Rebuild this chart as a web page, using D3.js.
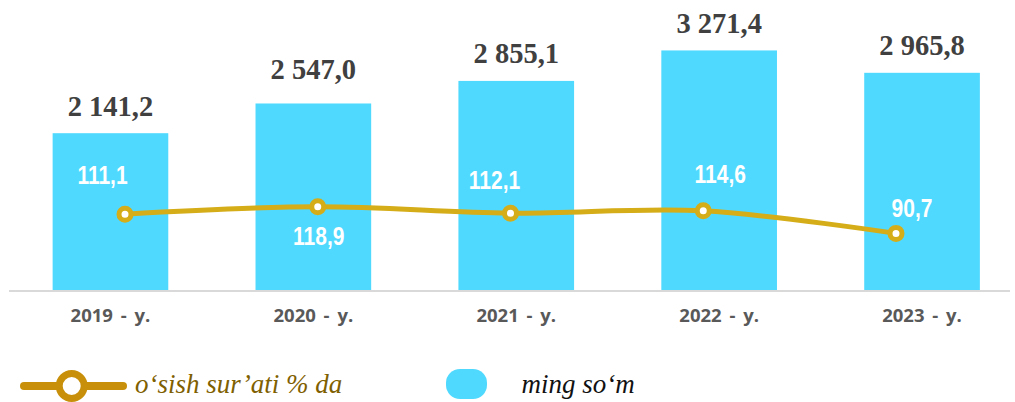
<!DOCTYPE html>
<html>
<head>
<meta charset="utf-8">
<script src="https://cdn.jsdelivr.net/npm/d3@7"></script>
<style>
  html, body { margin: 0; padding: 0; background: #ffffff; }
  svg { display: block; }
</style>
</head>
<body>
<svg id="chart" width="1015" height="402"></svg>
<script>
// ---- data ----
const categories = ["2019 - y.", "2020 - y.", "2021 - y.", "2022 - y.", "2023 - y."];
const amounts = [2141.2, 2547.0, 2855.1, 3271.4, 2965.8];      // ming so‘m
const growthRates = [111.1, 118.9, 112.1, 114.6, 90.7];        // o‘sish sur’ati % da
const legendLabels = ["o‘sish sur’ati % da", "ming so‘m"];

// ---- layout (label nudges, as placed in the original) ----
const growthLabelDx = [-22.5, 1, -16, 17, 16];
const growthLabelDy = [-30.5, 38, -24.4, -28, -16.6];
const amountLabelDy = [0, -6.5, 0, 0, 0];

const svg = d3.select("#chart");
const locale = d3.formatLocale({decimal: ",", thousands: " ", grouping: [3], currency: ["", ""]});
const fmt = locale.format(",.1f");

const x = d3.scaleBand().domain(categories).range([9, 1023.5]).paddingInner(0.43).paddingOuter(0.215);
const xLine = d3.scalePoint().domain(categories).range([125, 896]);
const yBar = d3.scaleLinear().domain([0, 3960]).range([290, 0]);
const yLine = d3.scaleLinear().domain([0, 338.2]).range([318.9, 0]);

const barColor = "#50D9FE";
const lineColor = "#D5AD18";

// bars
svg.append("g").selectAll("rect").data(amounts).join("rect")
  .attr("x", (d, i) => x(categories[i]))
  .attr("y", d => yBar(d))
  .attr("width", x.bandwidth())
  .attr("height", d => yBar(0) - yBar(d))
  .attr("fill", barColor);

// axis baseline
svg.append("line").attr("x1", 9).attr("x2", 1010).attr("y1", 291).attr("y2", 291)
  .attr("stroke", "#D9D9D9").attr("stroke-width", 2);

// x axis labels
const axis = svg.append("g").attr("transform", "translate(0,291)")
  .call(d3.axisBottom(x).tickSize(0).tickPadding(18));
axis.select(".domain").remove();
axis.selectAll("text")
  .attr("font-family", "'Open Sans', 'DejaVu Sans', sans-serif")
  .attr("font-weight", 700)
  .attr("font-size", 18.5)
  .attr("word-spacing", 3)
  .attr("fill", "#595959");

// bar value labels
svg.append("g").selectAll("text").data(amounts).join("text")
  .attr("x", (d, i) => x(categories[i]) + x.bandwidth() / 2)
  .attr("y", (d, i) => yBar(d) - 17.5 + amountLabelDy[i])
  .attr("text-anchor", "middle")
  .attr("font-family", "'Liberation Serif', 'Times New Roman', serif")
  .attr("font-weight", 700)
  .attr("font-size", 28.5)
  .attr("fill", "#404040")
  .text(d => fmt(d));

// growth line
const line = d3.line()
  .x((d, i) => xLine(categories[i]))
  .y(d => yLine(d))
  .curve(d3.curveCardinal.tension(0));
svg.append("path").datum(growthRates)
  .attr("d", line)
  .attr("fill", "none")
  .attr("stroke", lineColor)
  .attr("stroke-width", 5)
  .attr("stroke-linecap", "round");

svg.append("g").selectAll("circle").data(growthRates).join("circle")
  .attr("cx", (d, i) => xLine(categories[i]))
  .attr("cy", d => yLine(d))
  .attr("r", 6)
  .attr("fill", "#ffffff")
  .attr("stroke", lineColor)
  .attr("stroke-width", 5);

// growth labels (narrow face emulated with a horizontal squeeze)
svg.append("g").selectAll("text").data(growthRates).join("text")
  .attr("transform", (d, i) =>
    `translate(${xLine(categories[i]) + growthLabelDx[i]},${yLine(d) + growthLabelDy[i]}) scale(0.84,1)`)
  .attr("text-anchor", "middle")
  .attr("font-family", "'Liberation Sans', Arial, sans-serif")
  .attr("font-weight", 700)
  .attr("font-size", 25)
  .attr("fill", "#ffffff")
  .text(d => fmt(d));

// legend
const lg = svg.append("g");
lg.append("line").attr("x1", 24).attr("x2", 123).attr("y1", 386).attr("y2", 386)
  .attr("stroke", "#C8900A").attr("stroke-width", 8).attr("stroke-linecap", "round");
lg.append("circle").attr("cx", 71.7).attr("cy", 386).attr("r", 12.5)
  .attr("fill", "#ffffff").attr("stroke", "#C8900A").attr("stroke-width", 7);
lg.append("text").attr("x", 135).attr("y", 393)
  .attr("font-family", "'Liberation Serif', serif").attr("font-style", "italic")
  .attr("font-size", 27).attr("fill", "#7F6000")
  .text(legendLabels[0]);
lg.append("rect").attr("x", 446).attr("y", 369).attr("width", 41).attr("height", 30)
  .attr("rx", 14).attr("ry", 14).attr("fill", barColor);
lg.append("text").attr("x", 521.5).attr("y", 393)
  .attr("font-family", "'Liberation Serif', serif").attr("font-style", "italic")
  .attr("font-size", 27).attr("fill", "#111111")
  .text(legendLabels[1]);
</script>
</body>
</html>
